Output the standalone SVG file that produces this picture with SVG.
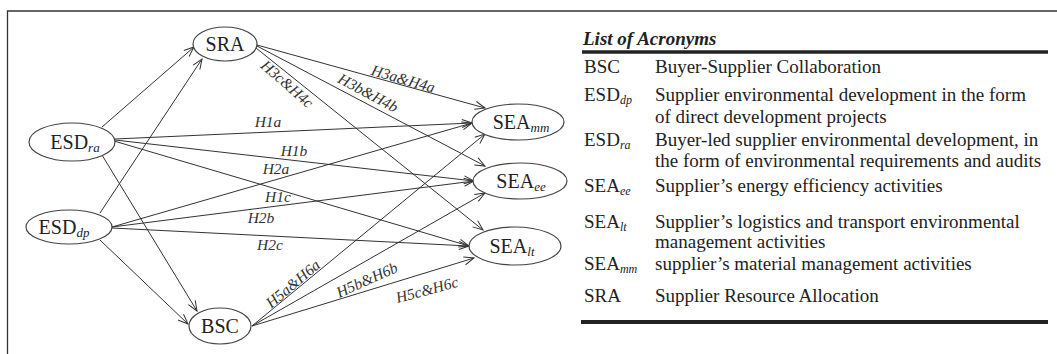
<svg xmlns="http://www.w3.org/2000/svg" width="1057" height="354" viewBox="0 0 1057 354">
<defs>
<style>
.node ellipse{fill:#fff;stroke:#444;stroke-width:1.2}
.nt{font-family:"Liberation Serif","Times New Roman",serif;font-size:20px;fill:#222;text-anchor:middle}
.sub{font-style:italic;font-size:13px}
.edges line{stroke:#333;stroke-width:1;marker-end:url(#arr)}
.el{font-family:"Liberation Serif","Times New Roman",serif;font-size:15.5px;font-style:italic;fill:#333;text-anchor:middle}
.tt{font-family:"Liberation Serif","Times New Roman",serif;font-size:19px;fill:#222}
.ts{font-style:italic;font-size:12px}
</style>
<marker id="arr" viewBox="0 0 12 10" refX="11" refY="5" markerWidth="12" markerHeight="10" orient="auto" markerUnits="userSpaceOnUse">
<path d="M1,1 L11,5 L1,9" fill="none" stroke="#333" stroke-width="1"/>
</marker>
</defs>
<rect width="1057" height="354" fill="#fff"/>
<path d="M7.5 354 V11 H1057" fill="none" stroke="#333" stroke-width="1.3"/>

<g id="connectors" class="edges">
<line x1="102" y1="127" x2="194" y2="47"/>
<line x1="100" y1="213" x2="202" y2="59"/>
<line x1="102" y1="155" x2="197" y2="311"/>
<line x1="100" y1="240" x2="188" y2="324"/>
<line x1="115" y1="139" x2="472" y2="123"/>
<line x1="115" y1="140" x2="474" y2="181"/>
<line x1="114" y1="141" x2="469" y2="246"/>
<line x1="112" y1="227" x2="472" y2="123"/>
<line x1="112" y1="227" x2="474" y2="181"/>
<line x1="112" y1="228" x2="469" y2="246"/>
<line x1="257" y1="45" x2="485" y2="108"/>
<line x1="257" y1="46" x2="485" y2="166"/>
<line x1="256" y1="48" x2="483" y2="230"/>
<line x1="252" y1="326" x2="485" y2="134"/>
<line x1="252" y1="326" x2="485" y2="193"/>
<line x1="252" y1="326" x2="474" y2="258"/>
</g>

<g id="edge-labels">
<text class="el" x="268" y="127">H1a</text>
<text class="el" x="294" y="156">H1b</text>
<text class="el" x="276" y="174">H2a</text>
<text class="el" x="278" y="202">H1c</text>
<text class="el" x="261" y="223">H2b</text>
<text class="el" x="270" y="250">H2c</text>
<text class="el" transform="translate(403,79) rotate(16)" y="5">H3a&amp;H4a</text>
<text class="el" transform="translate(368,93) rotate(28)" y="5">H3b&amp;H4b</text>
<text class="el" transform="translate(287,84) rotate(41)" y="5">H3c&amp;H4c</text>
<text class="el" transform="translate(293,284) rotate(-40)" y="5">H5a&amp;H6a</text>
<text class="el" transform="translate(367,280) rotate(-24)" y="5">H5b&amp;H6b</text>
<text class="el" transform="translate(427,290) rotate(-15)" y="5">H5c&amp;H6c</text>
</g>

<g id="SRA" class="node"><ellipse cx="225" cy="44" rx="32" ry="17"/><text class="nt" x="225" y="51">SRA</text></g>
<g id="ESDra" class="node"><ellipse cx="72" cy="142" rx="43" ry="19"/><text class="nt" x="75" y="149">ESD<tspan class="sub" dy="3">ra</tspan></text></g>
<g id="ESDdp" class="node"><ellipse cx="69" cy="227" rx="43" ry="17"/><text class="nt" x="64" y="234">ESD<tspan class="sub" dy="3">dp</tspan></text></g>
<g id="BSC" class="node"><ellipse cx="220" cy="326" rx="31" ry="18"/><text class="nt" x="220" y="333">BSC</text></g>
<g id="SEAmm" class="node"><ellipse cx="518" cy="122" rx="46" ry="18"/><text class="nt" x="521" y="129">SEA<tspan class="sub" dy="3">mm</tspan></text></g>
<g id="SEAee" class="node"><ellipse cx="520" cy="181" rx="47" ry="18"/><text class="nt" x="521" y="188">SEA<tspan class="sub" dy="3">ee</tspan></text></g>
<g id="SEAlt" class="node"><ellipse cx="515" cy="246" rx="46" ry="19"/><text class="nt" x="512" y="253">SEA<tspan class="sub" dy="3">lt</tspan></text></g>

<g id="acronym-table">
<text class="tt" x="583" y="45" style="font-weight:bold;font-style:italic">List of Acronyms</text>
<line x1="582" y1="52" x2="1048" y2="52" stroke="#222" stroke-width="3.5"/>
<text class="tt" x="584" y="73">BSC</text>
<text class="tt" x="655" y="73">Buyer-Supplier Collaboration</text>
<text class="tt" x="584" y="101">ESD<tspan class="ts" dy="3">dp</tspan></text>
<text class="tt" x="655" y="101">Supplier environmental development in the form</text>
<text class="tt" x="655" y="123">of direct development projects</text>
<text class="tt" x="584" y="146">ESD<tspan class="ts" dy="3">ra</tspan></text>
<text class="tt" x="655" y="146">Buyer-led supplier environmental development, in</text>
<text class="tt" x="655" y="167">the form of environmental requirements and audits</text>
<text class="tt" x="584" y="192">SEA<tspan class="ts" dy="3">ee</tspan></text>
<text class="tt" x="655" y="192">Supplier’s energy efficiency activities</text>
<text class="tt" x="584" y="228">SEA<tspan class="ts" dy="3">lt</tspan></text>
<text class="tt" x="655" y="228">Supplier’s logistics and transport environmental</text>
<text class="tt" x="655" y="248">management activities</text>
<text class="tt" x="584" y="270">SEA<tspan class="ts" dy="3">mm</tspan></text>
<text class="tt" x="655" y="270">supplier’s material management activities</text>
<text class="tt" x="584" y="302">SRA</text>
<text class="tt" x="655" y="302">Supplier Resource Allocation</text>
<line x1="581" y1="322" x2="1048" y2="322" stroke="#222" stroke-width="4"/>
</g>
</svg>
